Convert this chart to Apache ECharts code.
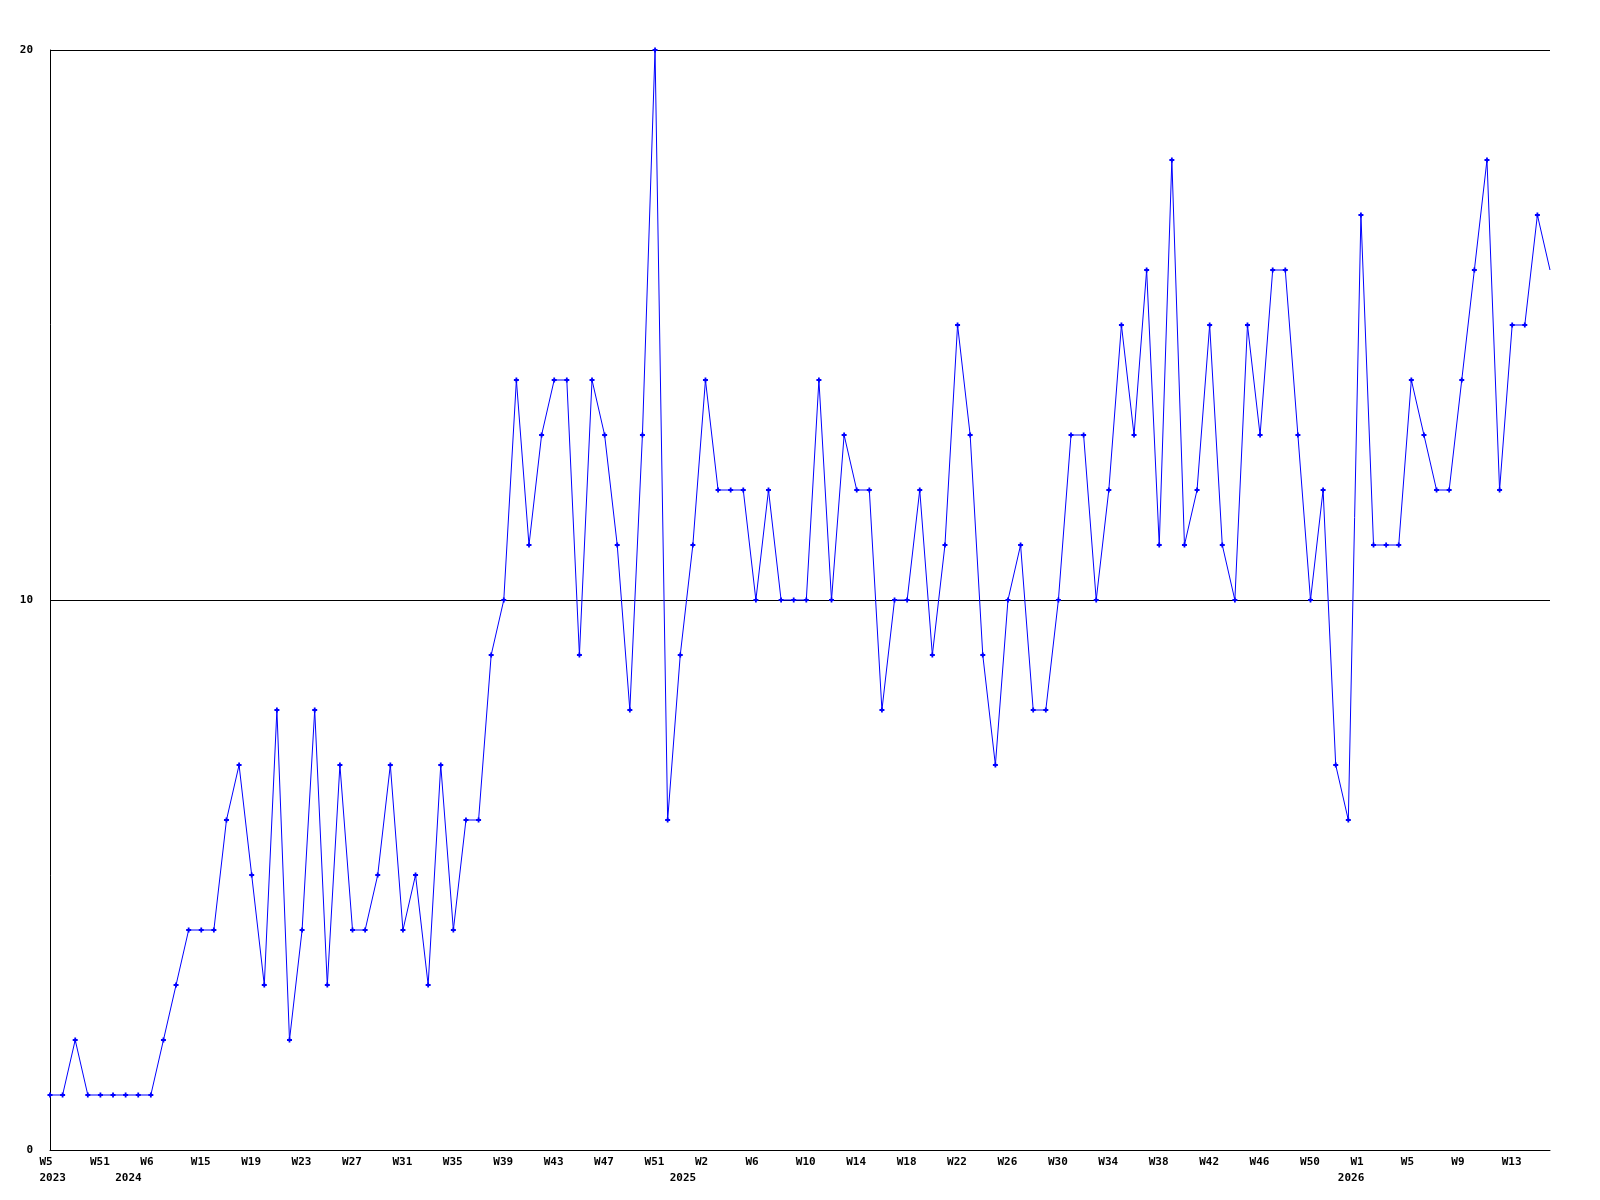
<!DOCTYPE html>
<html>
<head>
<meta charset="utf-8">
<script src="https://cdn.jsdelivr.net/npm/echarts@6/dist/echarts.min.js"></script>
<style>
  html, body { margin: 0; padding: 0; background: #fff; }
  #chart { width: 1600px; height: 1200px; }
</style>
</head>
<body>
<div id="chart"></div>
<script>
// Weekly values, one per point (120 points)
const values = [
  1, 1, 2, 1, 1, 1, 1, 1, 1, 2,
  3, 4, 4, 4, 6, 7, 5, 3, 8, 2,
  4, 8, 3, 7, 4, 4, 5, 7, 4, 5,
  3, 7, 4, 6, 6, 9, 10, 14, 11, 13,
  14, 14, 9, 14, 13, 11, 8, 13, 20, 6,
  9, 11, 14, 12, 12, 12, 10, 12, 10, 10,
  10, 14, 10, 13, 12, 12, 8, 10, 10, 12,
  9, 11, 15, 13, 9, 7, 10, 11, 8, 8,
  10, 13, 13, 10, 12, 15, 13, 16, 11, 18,
  11, 12, 15, 11, 10, 15, 13, 16, 16, 13,
  10, 12, 7, 6, 17, 11, 11, 11, 14, 13,
  12, 12, 14, 16, 18, 12, 15, 15, 17, 16
];

// Week tick labels, shown on every 4th point
const weekTicks = [
  'W5', 'W51', 'W6', 'W15', 'W19', 'W23', 'W27', 'W31', 'W35', 'W39',
  'W43', 'W47', 'W51', 'W2', 'W6', 'W10', 'W14', 'W18', 'W22', 'W26',
  'W30', 'W34', 'W38', 'W42', 'W46', 'W50', 'W1', 'W5', 'W9', 'W13'
];
const weekTickStep = 4;

// Year labels and the point index they sit under
const yearLabels = ['2023', '2024', '2025', '2026'];
const yearIndex = [0, 6, 50, 103];

// Y axis ticks
const yMin = 0, yMax = 20, yStep = 10;

const categories = values.map((v, i) => String(i));

const font = '"DejaVu Sans Mono", "Liberation Mono", monospace';
const labelShift = 10.5; // labels start a little left of their tick

const chart = echarts.init(document.getElementById('chart'), null, { renderer: 'canvas' });

const labelStyle = {
  color: '#000',
  fontFamily: font,
  fontWeight: 'bold',
  fontSize: 11
};

chart.setOption({
  animation: false,
  backgroundColor: '#ffffff',
  grid: [
    { left: 50, right: 50, top: 50, bottom: 50, containLabel: false },
    { left: 50 - labelShift, right: 50 + labelShift, top: 50, bottom: 50, containLabel: false }
  ],
  xAxis: [
    {
      type: 'category',
      gridIndex: 0,
      data: categories,
      boundaryGap: false,
      axisLine: { show: true, lineStyle: { color: '#000', width: 1 } },
      axisTick: { show: false },
      splitLine: { show: false },
      axisLabel: { show: false }
    },
    {
      type: 'category',
      gridIndex: 1,
      data: categories,
      boundaryGap: false,
      axisLine: { show: false },
      axisTick: { show: false },
      splitLine: { show: false },
      axisLabel: Object.assign({
        show: true,
        align: 'left',
        interval: (i) => i % weekTickStep === 0,
        formatter: (v, i) => weekTicks[i / weekTickStep] || '',
        margin: 7
      }, labelStyle)
    },
    {
      type: 'category',
      gridIndex: 1,
      data: categories,
      position: 'bottom',
      boundaryGap: false,
      axisLine: { show: false },
      axisTick: { show: false },
      splitLine: { show: false },
      axisLabel: Object.assign({
        show: true,
        align: 'left',
        interval: (i) => yearIndex.indexOf(i) >= 0,
        formatter: (v, i) => {
          const k = yearIndex.indexOf(i);
          return k >= 0 ? yearLabels[k] : '';
        },
        margin: 23
      }, labelStyle)
    }
  ],
  yAxis: [
    {
      type: 'value',
      gridIndex: 0,
      min: yMin,
      max: yMax,
      interval: yStep,
      axisLine: { show: true, lineStyle: { color: '#000', width: 1 } },
      axisTick: { show: false },
      splitLine: { show: true, lineStyle: { color: '#000', width: 1 } },
      axisLabel: Object.assign({ margin: 17 }, labelStyle)
    },
    {
      type: 'value',
      gridIndex: 1,
      min: yMin,
      max: yMax,
      show: false
    }
  ],
  series: [
    {
      type: 'line',
      xAxisIndex: 0,
      yAxisIndex: 0,
      data: values.map((v, i) => i === values.length - 1 ? { value: v, symbol: 'none' } : v),
      symbol: 'path://M1.6,0H3.4V1.6H5V3.4H3.4V5H1.6V3.4H0V1.6H1.6Z',
      symbolSize: 5,
      showAllSymbol: true,
      itemStyle: { color: '#0000ff' },
      lineStyle: { color: '#0000ff', width: 1 },
      z: 3
    }
  ]
});
</script>
</body>
</html>
